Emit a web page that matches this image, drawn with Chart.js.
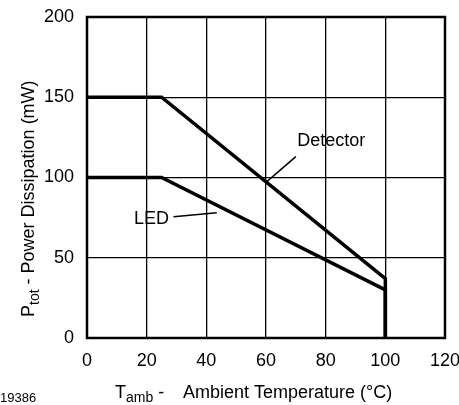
<!DOCTYPE html>
<html>
<head>
<meta charset="utf-8">
<script src="https://cdn.jsdelivr.net/npm/chart.js@4/dist/chart.umd.min.js"></script>
<style>
  html, body { margin: 0; padding: 0; background: #fff; }
  #wrap { width: 459px; height: 405px; position: relative; }
</style>
</head>
<body>
<div id="wrap"><canvas id="chart"></canvas></div>
<script>
// Power derating data
const temps = [0, 25, 100, 100];
const detectorPower = [150, 150, 37, 0];
const ledPower = [100, 100, 30, 0];

// Leader lines from the labels to the curves (data coords)
const detectorLeaderX = [70, 60];
const detectorLeaderY = [113, 97];
const ledLeaderX = [29, 43.5];
const ledLeaderY = [75.5, 78];

// Axis ticks
const xTicks = [0, 20, 40, 60, 80, 100, 120];
const yTicks = [0, 50, 100, 150, 200];

const FONT = "'Liberation Sans', Arial, Helvetica, sans-serif";

function toPoints(xs, ys) {
    return xs.map((x, i) => ({ x: x, y: ys[i] }));
}

// Draws frame, curve labels, axis titles with subscripts and figure number
const textPlugin = {
    id: 'textPlugin',
    afterDraw(chart) {
        const ctx = chart.ctx;
        const area = chart.chartArea;
        const xs = chart.scales.x;
        const ys = chart.scales.y;

        ctx.save();
        // frame
        ctx.strokeStyle = '#000';
        ctx.lineWidth = 2.5;
        ctx.strokeRect(area.left, area.top, area.right - area.left, area.bottom - area.top);

        ctx.fillStyle = '#000';
        ctx.textBaseline = 'middle';

        // curve labels
        ctx.font = '18px ' + FONT;
        ctx.textAlign = 'left';
        ctx.fillText('Detector', xs.getPixelForValue(70.5), ys.getPixelForValue(123));
        ctx.textAlign = 'right';
        ctx.fillText('LED', xs.getPixelForValue(27.5), ys.getPixelForValue(74));

        // x axis title: T_amb -  Ambient Temperature (°C)
        ctx.textBaseline = 'alphabetic';
        ctx.textAlign = 'left';
        const base = 398;
        const big = '18px ' + FONT;
        const small = '14px ' + FONT;
        ctx.font = big;
        const wT = ctx.measureText('T').width;
        ctx.font = small;
        const wSub = ctx.measureText('amb').width;
        let x0 = 115;
        ctx.font = big;
        ctx.fillText('T', x0, base);
        ctx.font = small;
        ctx.fillText('amb', x0 + wT, base + 4);
        ctx.font = big;
        ctx.fillText(' -', x0 + wT + wSub, base);
        ctx.fillText('Ambient Temperature (°C)', 183, base);

        // y axis title: P_tot - Power Dissipation (mW)
        ctx.save();
        ctx.translate(34, 317);
        ctx.rotate(-Math.PI / 2);
        ctx.font = big;
        ctx.fillText('P', 0, 0);
        const wP = ctx.measureText('P').width;
        ctx.font = small;
        ctx.fillText('tot', wP, 5);
        const wTot = ctx.measureText('tot').width;
        ctx.font = big;
        ctx.fillText(' - Power Dissipation (mW)', wP + wTot, 0);
        ctx.restore();

        // figure number
        ctx.font = '13px ' + FONT;
        ctx.textBaseline = 'middle';
        ctx.fillText('19386', 0, 398);
        ctx.restore();
    }
};

const ctx = document.getElementById('chart').getContext('2d');
const chart = new Chart(ctx, {
    type: 'scatter',
    data: {
        datasets: [{
            label: 'Detector',
            data: toPoints(temps, detectorPower),
            showLine: true,
            borderColor: '#000',
            borderWidth: 3.5,
            pointRadius: 0,
            tension: 0
        }, {
            label: 'LED',
            data: toPoints(temps, ledPower),
            showLine: true,
            borderColor: '#000',
            borderWidth: 3.5,
            pointRadius: 0,
            tension: 0
        }, {
            label: 'Detector leader',
            data: toPoints(detectorLeaderX, detectorLeaderY),
            showLine: true,
            borderColor: '#000',
            borderWidth: 1.5,
            pointRadius: 0
        }, {
            label: 'LED leader',
            data: toPoints(ledLeaderX, ledLeaderY),
            showLine: true,
            borderColor: '#000',
            borderWidth: 1.5,
            pointRadius: 0
        }]
    },
    options: {
        responsive: true,
        maintainAspectRatio: false,
        animation: false,
        layout: { padding: { left: 0, top: 17, right: 14, bottom: 0 } },
        plugins: {
            legend: { display: false },
            tooltip: { enabled: false }
        },
        scales: {
            x: {
                type: 'linear',
                min: 0,
                max: 120,
                afterFit(scale) {
                    scale.height = 67;
                    scale.paddingLeft = 0;
                    scale.paddingRight = 0;
                },
                afterBuildTicks(scale) { scale.ticks = xTicks.map(v => ({ value: v })); },
                grid: { color: '#000', lineWidth: 1.3, drawTicks: false },
                border: { display: false },
                ticks: {
                    color: '#000',
                    padding: 12,
                    maxRotation: 0,
                    font: { family: FONT, size: 18 }
                }
            },
            y: {
                type: 'linear',
                min: 0,
                max: 200,
                afterFit(scale) {
                    scale.width = 87;
                    scale.paddingTop = 0;
                    scale.paddingBottom = 0;
                },
                afterBuildTicks(scale) { scale.ticks = yTicks.map(v => ({ value: v })); },
                grid: { color: '#000', lineWidth: 1.3, drawTicks: false },
                border: { display: false },
                ticks: {
                    color: '#000',
                    padding: 13,
                    font: { family: FONT, size: 18 }
                }
            }
        }
    },
    plugins: [textPlugin]
});
</script>
</body>
</html>
